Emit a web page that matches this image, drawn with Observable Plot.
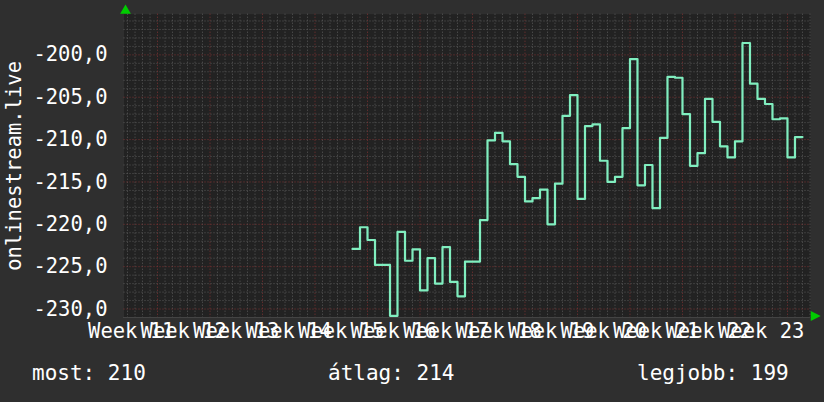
<!DOCTYPE html>
<html>
<head>
<meta charset="utf-8">
<script src="https://cdn.jsdelivr.net/npm/d3@7"></script>
<script src="https://cdn.jsdelivr.net/npm/@observablehq/plot@0.6"></script>
<style>
  html, body { margin: 0; padding: 0; background: #2f2f2f; }
  #wrap { position: relative; width: 824px; height: 402px; background: #2f2f2f; overflow: hidden; }
  #wrap svg { display: block; }
  .leg { position: absolute; top: 363px; color: #ffffff; font-family: "DejaVu Sans Mono", monospace; font-size: 21px; line-height: 21px; white-space: pre; }
</style>
</head>
<body>
<div id="wrap"></div>
<script>
// Day offsets are counted from the Monday that starts Week 12.
const firstDay = 26;
const values = [
  -222.9, -220.35, -221.85, -224.8, -224.8, -230.8, -220.9, -224.3, -222.95, -227.8,
  -224.0, -227.0, -222.7, -226.8, -228.5, -224.4, -224.4, -219.5, -210.1, -209.2,
  -210.2, -212.9, -214.4, -217.3, -216.9, -215.9, -220.0, -215.2, -207.2, -204.75,
  -217.0, -208.4, -208.2, -212.5, -215.0, -214.4, -208.65, -200.5, -215.4, -213.0,
  -218.1, -209.8, -202.6, -202.7, -207.0, -213.1, -211.6, -205.2, -207.9, -210.8,
  -212.1, -210.2, -198.6, -203.4, -205.2, -205.8, -207.6, -207.5, -212.1, -209.7
];
const weekNumbers = [11, 12, 13, 14, 15, 16, 17, 18, 19, 20, 21, 22, 23];
const weekLabels = weekNumbers.map(w => "Week " + w);
const yTicks = [-230, -225, -220, -215, -210, -205, -200];
const yLabel = "onlinestream.live";
const legendItems = [
  {text: "most: 210", left: 32},
  {text: "átlag: 214", left: 328},
  {text: "legjobb: 199", left: 637}
];

const data = values.map((v, i) => ({day: firstDay + i, value: v}));
data.push({day: firstDay + values.length, value: values[values.length - 1]});

const xDomain = [-4.47, 87.07];
const yDomain = [-231.0, -195.2];
const minorDays = d3.range(-4, 88).filter(d => d % 7 !== 0);
const majorDays = d3.range(-4, 88).filter(d => d % 7 === 0);
const minorY = d3.range(-231, -195).filter(v => v % 5 !== 0);
const majorY = d3.range(-231, -195).filter(v => v % 5 === 0);
const weekCenters = weekNumbers.map(w => (w - 12) * 7 + 3.5);

const rightTriangle = {
  draw(ctx, size) {
    const r = Math.sqrt(size / 1.3);
    ctx.moveTo(r, 0);
    ctx.lineTo(-r * 0.6, r * 0.8);
    ctx.lineTo(-r * 0.6, -r * 0.8);
    ctx.closePath();
  }
};

const chart = Plot.plot({
  width: 824,
  height: 350,
  marginLeft: 123.5,
  marginRight: 14,
  marginTop: 13.7,
  marginBottom: 33,
  style: {background: "transparent", color: "#ffffff", fontFamily: "DejaVu Sans Mono, monospace", fontSize: "20.5px", overflow: "visible"},
  x: {domain: xDomain},
  y: {domain: yDomain},
  marks: [
    Plot.frame({fill: "#222222", stroke: null}),
    Plot.ruleX(minorDays, {stroke: "#5a5a5a", strokeDasharray: "1,2"}),
    Plot.ruleY(minorY, {stroke: "#5a5a5a", strokeDasharray: "1,2"}),
    Plot.ruleX(majorDays, {stroke: "#7e3333", strokeDasharray: "1,2"}),
    Plot.ruleY(majorY, {stroke: "#7e3333", strokeDasharray: "1,2"}),
    Plot.ruleY([yDomain[0]], {stroke: "#444444"}),
    Plot.line(data, {x: "day", y: "value", curve: "step-after", stroke: "#80eebf", strokeWidth: 2.2}),
    Plot.axisY({ticks: yTicks, tickFormat: d => d.toFixed(1).replace(".", ","), tickSize: 0, tickPadding: 16.5, label: null, fontSize: "20.5px"}),
    Plot.axisX({ticks: weekCenters, tickFormat: (d, i) => weekLabels[i], tickSize: 0, tickPadding: 6, label: null, fontSize: "20.5px"}),
    Plot.text([yLabel], {frameAnchor: "left", text: d => d, rotate: -90, dx: -109.5, fill: "#ffffff", fontSize: "20.5px", textAnchor: "middle"}),
    Plot.dot([0], {frameAnchor: "top-left", symbol: "triangle", r: 4, fill: "#00cc00", stroke: null, dx: 1.5, dy: -3.5}),
    Plot.dot([0], {frameAnchor: "bottom-right", symbol: rightTriangle, r: 4, fill: "#00cc00", stroke: null, dx: 4, dy: -1.5})
  ]
});

const wrap = document.getElementById("wrap");
wrap.appendChild(chart);
for (const item of legendItems) {
  const s = document.createElement("div");
  s.className = "leg";
  s.style.left = item.left + "px";
  s.textContent = item.text;
  wrap.appendChild(s);
}
</script>
</body>
</html>
